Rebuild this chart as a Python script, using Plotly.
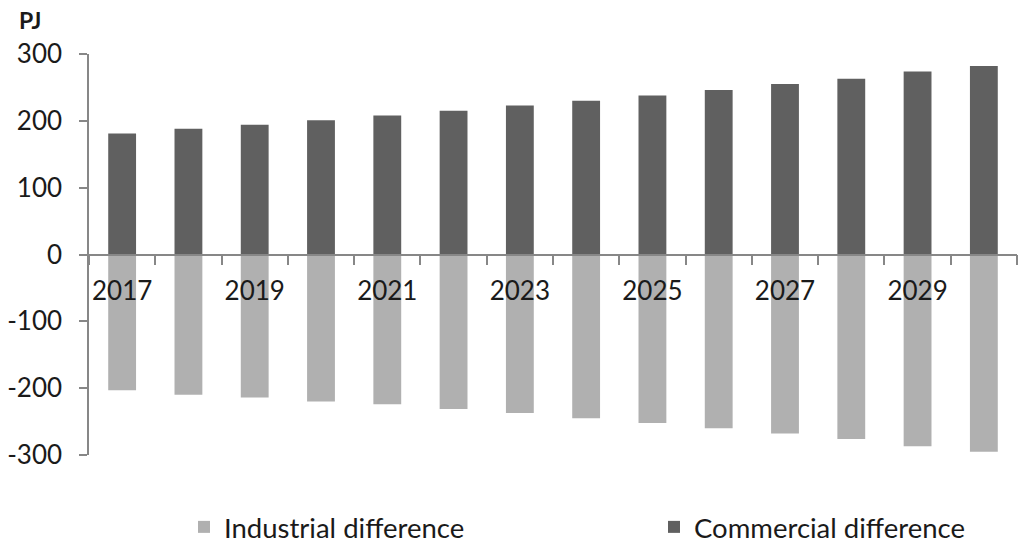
import plotly.graph_objects as go

years = list(range(2017, 2031))
commercial = [181, 188, 194, 201, 208, 215, 223, 230, 238, 246, 255, 263, 274, 282]
industrial = [-203, -210, -214, -220, -224, -231, -237, -245, -252, -260, -268, -276, -287, -295]
year_labels = [str(y) for y in years[::2]]
y_ticks = [-300, -200, -100, 0, 100, 200, 300]
y_tick_labels = ["-300", "-200", "-100", "0", "100", "200", "300"]

FONT = "Lato"
TXT = "#1a1a1a"
AX = "#878787"

fig = go.Figure()
fig.add_trace(go.Bar(x=years, y=industrial, name="Industrial difference", legend="legend",
                     marker=dict(color="#b0b0b0", line=dict(width=0)), width=0.42))
fig.add_trace(go.Bar(x=years, y=commercial, name="Commercial difference", legend="legend2",
                     marker=dict(color="#606060", line=dict(width=0)), width=0.42))

leg_common = dict(orientation="h", xref="container", yref="container",
                  yanchor="middle", xanchor="left",
                  font=dict(size=27.5, family=FONT, color=TXT),
                  itemwidth=30, bgcolor="rgba(0,0,0,0)")

fig.update_layout(
    width=1024, height=547,
    barmode="relative",
    paper_bgcolor="white", plot_bgcolor="white",
    margin=dict(l=89, r=7, t=54, b=92, autoexpand=False),
    font=dict(family=FONT, color=TXT, size=26),
    showlegend=True,
    legend=dict(leg_common, x=184 / 1024, y=1 - 527 / 547),
    legend2=dict(leg_common, x=654 / 1024, y=1 - 527 / 547),
    xaxis=dict(range=[2016.5, 2030.5], tickmode="array",
               tickvals=years[::2], ticktext=year_labels,
               ticks="", showgrid=False, zeroline=False,
               showline=True, linecolor=AX, linewidth=1.5,
               anchor="free", position=0.5, automargin=False,
               ticklabelstandoff=14,
               minor=dict(tickmode="linear", tick0=2016.5, dtick=1,
                          ticks="outside", ticklen=10, tickwidth=1.5, tickcolor=AX)),
    yaxis=dict(range=[-300, 300], tickmode="array", tickvals=y_ticks, ticktext=y_tick_labels,
               ticks="outside", ticklen=8, tickwidth=1.5, tickcolor=AX,
               showline=True, linecolor=AX, linewidth=1.5, automargin=False,
               showgrid=False, zeroline=False, ticklabelstandoff=12),
    annotations=[dict(text="<b>PJ</b>", xref="paper", yref="paper",
                      x=(17 - 89) / 928, y=1 + (54 - 4) / 401, xanchor="left", yanchor="top",
                      showarrow=False, font=dict(size=23, family=FONT, color=TXT))],
)

fig.write_html("out.html", config={"displayModeBar": False},
               post_script="document.body.style.margin='0';")
